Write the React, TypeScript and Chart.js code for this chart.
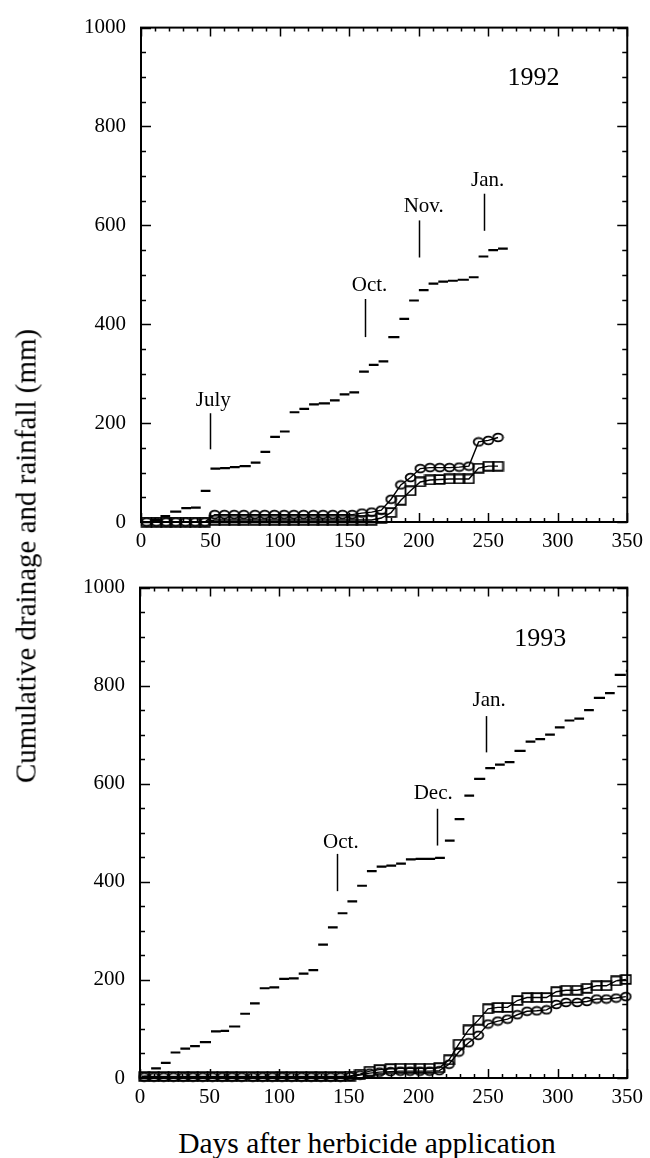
import React, { useEffect, useRef } from "react";
import { Chart, registerables } from "chart.js";

Chart.register(...registerables);

const FONT = "'Liberation Serif', 'Times New Roman', serif";

// ---------- 1992 ----------
// weekly rainfall segments (start day, cumulative mm)
const rain1992Start = [0, 7, 14, 21, 29, 36, 43, 50, 57, 64, 71, 79, 86, 93, 100, 107, 114, 121, 128, 136, 143, 150, 157, 164, 171, 178, 186, 193, 200, 207, 214, 221, 228, 236, 243, 250, 257];
const rain1992Values = [0, 4, 12, 21, 28, 29, 63, 108, 109, 111, 113, 120, 142, 172, 183, 222, 229, 238, 240, 246, 258, 262, 304, 318, 325, 374, 411, 448, 469, 482, 486, 488, 490, 495, 537, 550, 553];
const rain1992LastEnd = 264;
const days1992 = [4, 11, 18, 25, 32, 39, 46, 53, 60, 67, 74, 82, 89, 96, 103, 110, 117, 124, 131, 138, 145, 152, 159, 166, 173, 180, 187, 194, 201, 208, 215, 222, 229, 236, 243, 250, 257];
const circles1992 = [0, 0, 0, 0, 0, 0, 0, 15, 15, 15, 15, 15, 15, 15, 15, 15, 15, 15, 15, 15, 15, 15, 18, 20, 24, 46, 75, 90, 108, 110, 110, 110, 111, 113, 162, 165, 171];
const squares1992 = [0, 0, 0, 0, 0, 0, 0, 4, 4, 4, 4, 4, 4, 4, 4, 4, 4, 4, 4, 4, 4, 4, 4, 4, 8, 19, 44, 63, 81, 85, 86, 87, 87, 87, 109, 113, 113];

// ---------- 1993 ----------
const rain1993Start = [1, 8, 15, 22, 29, 36, 43, 51, 58, 64, 72, 79, 86, 93, 100, 107, 114, 121, 128, 135, 142, 149, 156, 163, 170, 177, 184, 191, 198, 205, 212, 219, 226, 233, 240, 248, 255, 262, 269, 277, 284, 291, 298, 305, 312, 319, 326, 334, 341, 349];
const rain1993Values = [3, 19.5, 31, 52, 60, 65, 73, 95, 96, 105, 131, 152, 183, 185, 202, 203, 213, 220, 272, 307, 336, 360, 392, 422, 431, 433, 437, 446, 447, 447, 449, 484, 528, 576, 610, 632, 639, 644, 667, 686, 691, 700, 715, 729, 733, 750, 775, 785, 822, 830];
const rain1993LastEnd = 352;
const days1993 = [3, 10, 17, 24, 31, 38, 45, 52, 59, 66, 73, 81, 88, 95, 102, 109, 116, 123, 130, 137, 144, 151, 158, 165, 172, 180, 187, 194, 201, 208, 215, 222, 229, 236, 243, 250, 257, 264, 271, 278, 285, 292, 299, 306, 314, 321, 328, 335, 342, 349];
const circles1993 = [2, 2, 2, 2, 2, 2, 2, 2, 2, 2, 2, 2, 2, 2, 2, 2, 2, 2, 2, 2, 2, 3, 6, 10, 12, 13, 14, 14, 14, 14, 15, 28, 53, 72, 87, 110, 116, 120, 129, 136, 137, 139, 150, 154, 154, 156, 161, 161, 163, 166];
const squares1993 = [3, 3, 3, 3, 3, 3, 3, 3, 3, 3, 3, 3, 3, 3, 3, 3, 3, 3, 3, 3, 3, 4, 8, 14, 17, 19, 20, 20, 20, 20, 21, 37, 69, 98, 118, 141, 144, 144, 158, 164, 164, 164, 176, 179, 179, 183, 188, 188, 198, 201];

// axis ticks
const xTickStep = 50;
const xMinorStep = 10;
const yTickStep = 200;
const yMinorStep = 50;

// month markers (data coordinates)
type Annot = { text: string; lineX: number; lineFrom: number; lineTo: number; labelX: number; labelY: number };
const annots1992: Annot[] = [
  { text: "July", lineX: 50, lineFrom: 147, lineTo: 220, labelX: 52, labelY: 246 },
  { text: "Oct.", lineX: 161, lineFrom: 374, lineTo: 451, labelX: 164.5, labelY: 478 },
  { text: "Nov.", lineX: 200, lineFrom: 535, lineTo: 610, labelX: 203.5, labelY: 639 },
  { text: "Jan.", lineX: 247, lineFrom: 589, lineTo: 664, labelX: 249.5, labelY: 690 },
];
const annots1993: Annot[] = [
  { text: "Oct.", lineX: 141.5, lineFrom: 381, lineTo: 457, labelX: 144.3, labelY: 481 },
  { text: "Dec.", lineX: 213.5, lineFrom: 474, lineTo: 549, labelX: 210.6, labelY: 580 },
  { text: "Jan.", lineX: 248.5, lineFrom: 664, lineTo: 738, labelX: 250.8, labelY: 769 },
];

function rainPoints(starts: number[], vals: number[], lastEnd: number) {
  const pts: { x: number; y: number | null }[] = [];
  starts.forEach((s, i) => {
    const e = i + 1 < starts.length ? starts[i + 1] : lastEnd;
    pts.push({ x: s, y: vals[i] });
    pts.push({ x: e, y: vals[i] });
    pts.push({ x: e, y: null });
  });
  return pts;
}

function makeMarker(kind: "ellipse" | "rect") {
  const c = document.createElement("canvas");
  c.width = 13;
  c.height = 11;
  const g = c.getContext("2d")!;
  g.strokeStyle = "#000";
  g.lineWidth = 1.8;
  g.beginPath();
  if (kind === "ellipse") {
    g.ellipse(6.5, 5.5, 4.9, 3.8, 0, 0, Math.PI * 2);
  } else {
    g.rect(1.5, 1.2, 10, 8.6);
  }
  g.stroke();
  return c;
}

const framePlugin = {
  id: "frameTicks",
  afterDatasetsDraw(chart: any) {
    const { ctx, chartArea: a, scales } = chart;
    const x = scales.x;
    const y = scales.y;
    ctx.save();
    ctx.strokeStyle = "#000";
    ctx.lineWidth = 1.5;
    ctx.beginPath();
    for (let v = x.min; v <= x.max + 1e-6; v += xMinorStep) {
      const px = Math.round(x.getPixelForValue(v)) + 0.5;
      const len = Math.abs(v % xTickStep) < 1e-6 ? 9 : 4;
      ctx.moveTo(px, a.bottom);
      ctx.lineTo(px, a.bottom - len);
      ctx.moveTo(px, a.top);
      ctx.lineTo(px, a.top + len);
    }
    for (let v = y.min; v <= y.max + 1e-6; v += yMinorStep) {
      const py = Math.round(y.getPixelForValue(v)) + 0.5;
      const len = Math.abs(v % yTickStep) < 1e-6 ? 10 : 5;
      ctx.moveTo(a.left, py);
      ctx.lineTo(a.left + len, py);
      ctx.moveTo(a.right, py);
      ctx.lineTo(a.right - len, py);
    }
    ctx.stroke();
    ctx.lineWidth = 2;
    ctx.strokeRect(a.left, a.top, a.right - a.left, a.bottom - a.top);
    ctx.restore();
  },
};

function makeAnnotPlugin(annots: Annot[], year: string, yearX: number, yearY: number) {
  return {
    id: "monthAnnots",
    afterDatasetsDraw(chart: any) {
      const { ctx, scales } = chart;
      const x = scales.x;
      const y = scales.y;
      ctx.save();
      ctx.fillStyle = "#000";
      ctx.strokeStyle = "#000";
      ctx.lineWidth = 1.5;
      ctx.textAlign = "center";
      ctx.textBaseline = "middle";
      ctx.font = `21px ${FONT}`;
      annots.forEach((an) => {
        const lx = Math.round(x.getPixelForValue(an.lineX)) + 0.5;
        ctx.beginPath();
        ctx.moveTo(lx, y.getPixelForValue(an.lineFrom));
        ctx.lineTo(lx, y.getPixelForValue(an.lineTo));
        ctx.stroke();
        ctx.fillText(an.text, x.getPixelForValue(an.labelX), y.getPixelForValue(an.labelY));
      });
      ctx.font = `26px ${FONT}`;
      ctx.fillText(year, x.getPixelForValue(yearX), y.getPixelForValue(yearY));
      ctx.restore();
    },
  };
}

type PanelProps = {
  top: number;
  height: number;
  padTop: number;
  padRight: number;
  yWidth: number;
  xHeight: number;
  rainStart: number[];
  rainVals: number[];
  rainEnd: number;
  days: number[];
  circles: number[];
  squares: number[];
  annots: Annot[];
  year: string;
  yearX: number;
  yearY: number;
};

function Panel(p: PanelProps) {
  const ref = useRef<HTMLCanvasElement | null>(null);
  useEffect(() => {
    if (!ref.current) return;
    const tickFont = { family: FONT, size: 21 };
    const ellipse = makeMarker("ellipse");
    const square = makeMarker("rect");
    const chart = new Chart(ref.current, {
      type: "scatter",
      data: {
        datasets: [
          {
            label: "Rainfall",
            data: rainPoints(p.rainStart, p.rainVals, p.rainEnd) as any,
            showLine: true,
            spanGaps: false,
            borderColor: "#000",
            borderWidth: 2.2,
            pointRadius: 0,
            pointHoverRadius: 0,
          },
          {
            label: "Drainage (circles)",
            data: p.days.map((d, i) => ({ x: d, y: p.circles[i] })),
            showLine: true,
            borderColor: "#000",
            borderWidth: 1.4,
            pointStyle: ellipse,
            pointRadius: 5,
            clip: false as any,
          },
          {
            label: "Drainage (squares)",
            data: p.days.map((d, i) => ({ x: d, y: p.squares[i] })),
            showLine: true,
            borderColor: "#000",
            borderWidth: 1.4,
            pointStyle: square,
            pointRadius: 5,
            clip: false as any,
          },
        ],
      },
      options: {
        animation: false,
        responsive: false,
        maintainAspectRatio: false,
        layout: { padding: { top: p.padTop, right: p.padRight, left: 0, bottom: 0 } },
        plugins: { legend: { display: false }, tooltip: { enabled: false } },
        events: [],
        scales: {
          x: {
            type: "linear",
            min: 0,
            max: 350,
            ticks: { stepSize: xTickStep, font: tickFont, color: "#000", padding: 7, maxRotation: 0, callback: (v: any) => String(v) },
            grid: { display: false, drawTicks: false },
            border: { display: false },
            afterFit: (s: any) => {
              s.height = p.xHeight;
            },
          },
          y: {
            type: "linear",
            min: 0,
            max: 1000,
            ticks: { stepSize: yTickStep, font: tickFont, color: "#000", padding: 15, callback: (v: any) => String(v) },
            grid: { display: false, drawTicks: false },
            border: { display: false },
            afterFit: (s: any) => {
              s.width = p.yWidth;
            },
          },
        },
      },
      plugins: [framePlugin, makeAnnotPlugin(p.annots, p.year, p.yearX, p.yearY)],
    } as any);
    return () => chart.destroy();
  }, []);
  return (
    <canvas
      ref={ref}
      width={650}
      height={p.height}
      style={{ position: "absolute", left: 0, top: p.top, width: 650, height: p.height }}
    />
  );
}

export default function App() {
  return (
    <div style={{ position: "absolute", left: 0, top: 0, width: 650, height: 1158, background: "#fff", overflow: "hidden" }}>
      <Panel
        top={0}
        height={560}
        padTop={26}
        padRight={15}
        yWidth={141}
        xHeight={38}
        rainStart={rain1992Start}
        rainVals={rain1992Values}
        rainEnd={rain1992LastEnd}
        days={days1992}
        circles={circles1992}
        squares={squares1992}
        annots={annots1992}
        year="1992"
        yearX={282.6}
        yearY={898}
      />
      <Panel
        top={560}
        height={560}
        padTop={23}
        padRight={17}
        yWidth={140}
        xHeight={42}
        rainStart={rain1993Start}
        rainVals={rain1993Values}
        rainEnd={rain1993LastEnd}
        days={days1993}
        circles={circles1993}
        squares={squares1993}
        annots={annots1993}
        year="1993"
        yearX={287.5}
        yearY={895}
      />
      <div
        style={{
          position: "absolute",
          left: 367,
          top: 1143,
          transform: "translate(-50%, -50%)",
          font: `29.5px ${FONT}`,
          color: "#000",
          whiteSpace: "nowrap",
        }}
      >
        Days after herbicide application
      </div>
      <div
        style={{
          position: "absolute",
          left: 26,
          top: 556,
          transform: "translate(-50%, -50%) rotate(-90deg)",
          font: `29px ${FONT}`,
          color: "#000",
          whiteSpace: "nowrap",
        }}
      >
        Cumulative drainage and rainfall (mm)
      </div>
    </div>
  );
}
